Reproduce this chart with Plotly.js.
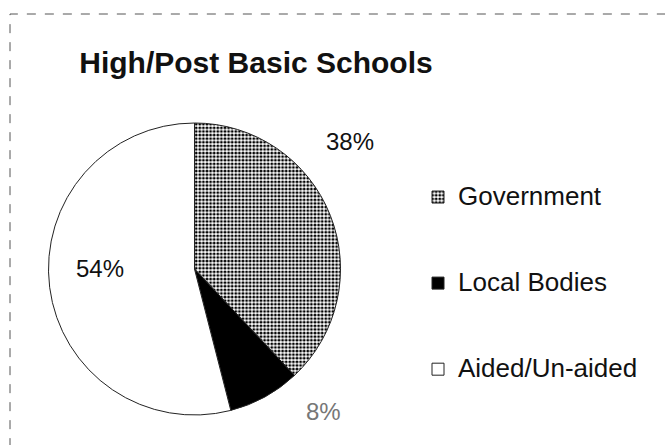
<!DOCTYPE html>
<html>
<head>
<meta charset="utf-8">
<script src="https://cdn.plot.ly/plotly-3.0.1.min.js"></script>
<style>
  html, body { margin: 0; padding: 0; background: #fff; }
  #chart { width: 665px; height: 445px; }
</style>
</head>
<body>
<div id="chart"></div>
<script>
// ---- data ----
const chartTitle = "High/Post Basic Schools";
const categories = ["Government", "Local Bodies", "Aided/Un-aided"];
const shares = [38, 8, 54];

// ---- styling (kept separate from data) ----
const fills = ["#ffffff", "#000000", "#ffffff"];
const patternShapes = [".", "", ""];
const FONT = "Liberation Sans, Arial, Helvetica, sans-serif";
const legendLineFont = 21.3;   // sets legend line height
const legendTextFont = 26;     // visible legend label size

const total = shares.reduce((a, b) => a + b, 0);
const pctText = shares.map(v => Math.round(v / total * 100) + "%");

// legend labels: label on middle of three lines to space entries apart
const legendLabels = categories.map(c =>
  "<br><span style=\"font-size:" + legendTextFont + "px\">" + c + "</span><br>");

const pie = {
  type: "pie",
  labels: legendLabels,
  values: shares,
  sort: false,
  direction: "clockwise",
  rotation: 0,
  textinfo: "none",
  hoverinfo: "none",
  domain: { x: [43 / 665, 346 / 665], y: [1 - 415 / 445, 1 - 123 / 445] },
  marker: {
    colors: fills,
    line: { color: "#222", width: 1 },
    pattern: {
      shape: patternShapes,
      fgcolor: "#000000",
      size: 3.6,
      solidity: 0.5
    }
  }
};

// percentage labels placed where the original puts them
const labelPos = [
  { x: 350 / 665, y: 1 - 141 / 445, color: "#111" },
  { x: 323 / 665, y: 1 - 411 / 445, color: "#777" },
  { x: 100 / 665, y: 1 - 268 / 445, color: "#111" }
];
const annotations = pctText.map((t, i) => ({
  xref: "paper", yref: "paper",
  x: labelPos[i].x, y: labelPos[i].y,
  xanchor: "center", yanchor: "middle",
  text: t, showarrow: false,
  font: { family: FONT, size: 24, color: labelPos[i].color }
}));

const layout = {
  width: 665, height: 445,
  margin: { l: 0, r: 0, t: 0, b: 0 },
  paper_bgcolor: "#ffffff",
  plot_bgcolor: "#ffffff",
  font: { family: FONT, color: "#111" },
  title: {
    text: chartTitle,
    font: { family: FONT, size: 30, color: "#111", weight: "bold" },
    xref: "paper", yref: "paper",
    x: 256 / 665, xanchor: "center",
    y: 1 - 62 / 445, yanchor: "middle"
  },
  showlegend: true,
  legend: {
    x: 418 / 665, xanchor: "left",
    y: 1 - 149 / 445, yanchor: "top",
    font: { family: FONT, size: legendLineFont, color: "#111" },
    bgcolor: "rgba(0,0,0,0)",
    valign: "middle",
    traceorder: "normal"
  },
  annotations: annotations,
  shapes: [{
    type: "rect", xref: "paper", yref: "paper",
    x0: 10 / 665, x1: 1.02, y0: -0.05, y1: 1 - 14 / 445,
    line: { color: "#555", width: 1, dash: "dash" },
    fillcolor: "rgba(0,0,0,0)"
  }]
};

Plotly.newPlot("chart", [pie], layout, { staticPlot: true, displayModeBar: false });
</script>
</body>
</html>
